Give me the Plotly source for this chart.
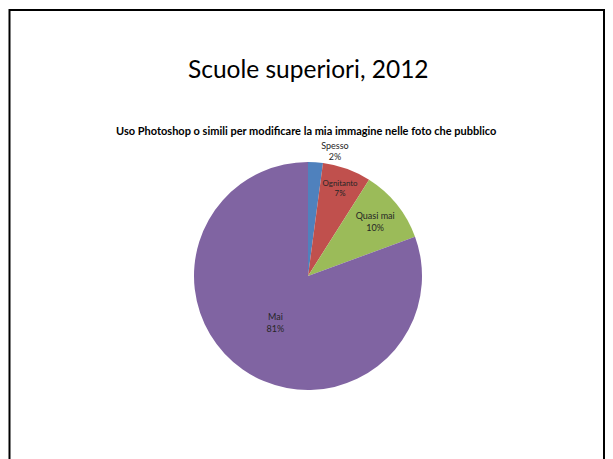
import plotly.graph_objects as go

labels = ["Spesso", "Ognitanto", "Quasi mai", "Mai"]
values = [2.1, 6.9, 10.4, 80.6]
colors = ["#4F81BD", "#C0504D", "#9BBB59", "#8064A2"]
text_pos = ["outside", "inside", "inside", "inside"]

slide_title = "Scuole superiori, 2012"
chart_title = "Uso Photoshop o simili per modificare la mia immagine nelle foto che pubblico"

OFF = 8  # page body margin
W, H = 613 - OFF, 459 - OFF


def px(x):
    return (x - OFF) / W


def py(y):
    return 1 - (y - OFF) / H


fig = go.Figure()
fig.add_trace(go.Pie(
    labels=labels, values=values, sort=False, direction="clockwise", rotation=0,
    marker=dict(colors=colors, line=dict(width=0)),
    texttemplate="%{label}<br>%{percent:.0%}",
    textposition=text_pos,
    insidetextorientation="horizontal",
    textfont=dict(family="Lato", size=9, color="#262626"),
    outsidetextfont=dict(family="Lato", size=9, color="#262626"),
    showlegend=False, hoverinfo="label+percent",
    domain=dict(x=[px(194), px(422)], y=[py(390), py(162)]),
))
# slide frame (left/top/right edges; bottom runs off the page)
fig.add_shape(type="rect", xref="paper", yref="paper",
              x0=px(9.5), x1=px(604), y0=-0.1, y1=py(10),
              line=dict(color="black", width=2))
fig.add_annotation(text=slide_title, x=px(308), y=py(68), xref="paper", yref="paper",
                   showarrow=False, font=dict(family="Lato", size=24.5, color="black"),
                   xanchor="center", yanchor="middle")
fig.add_annotation(text="<b>" + chart_title + "</b>", x=px(306), y=py(131), xref="paper", yref="paper",
                   showarrow=False, font=dict(family="Lato", size=11, color="black"),
                   xanchor="center", yanchor="middle")
fig.update_layout(width=W, height=H, margin=dict(l=0, r=0, t=0, b=0),
                  paper_bgcolor="white", plot_bgcolor="white")
fig.write_html("out.html")
